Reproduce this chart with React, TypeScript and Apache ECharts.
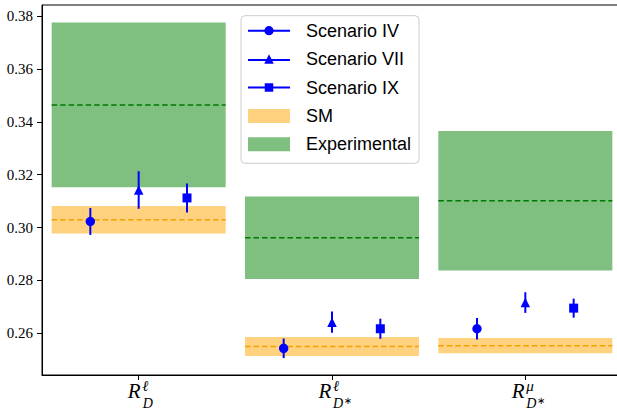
import React, { useEffect, useRef } from 'react';
import * as echarts from 'echarts';

// ---- data ----
const categories = ['R_D^ℓ', 'R_{D*}^ℓ', 'R_{D*}^μ'];
const labelSup = ['ℓ', 'ℓ', 'μ'];
const labelSub = ['D', 'D', 'D'];
const labelStar = [false, true, true];

const smCentral = [0.3029, 0.2550, 0.2553];
const smError = [0.0052, 0.0036, 0.0029];
const expCentral = [0.3464, 0.2961, 0.3101];
const expError = [0.0312, 0.0156, 0.0264];

const scenarioNames = ['Scenario IV', 'Scenario VII', 'Scenario IX'];
const scenarioIV = [0.3023, 0.2543, 0.2617];
const scenarioIVErr = [0.0051, 0.0037, 0.0041];
const scenarioVII = [0.3142, 0.2642, 0.2716];
const scenarioVIIErr = [0.0071, 0.0040, 0.0039];
const scenarioIX = [0.3112, 0.2617, 0.2695];
const scenarioIXErr = [0.0055, 0.0038, 0.0036];

const yTicks = [0.26, 0.28, 0.30, 0.32, 0.34, 0.36, 0.38];
const xTicks = [0, 1, 2];

// ---- layout / style constants ----
const Y_MIN = 0.2442;
const Y_MAX = 0.3842;
const X_MIN = -0.5;
const X_MAX = 2.5;
const BOX_HALF = 0.45;
const OFFSETS = [-0.25, 0, 0.25];
const BLUE = '#0000ff';
const SERIF = 'Liberation Serif';
const SANS = 'Liberation Sans';

const circleIcon =
  'path://M0,3.65 L16.6,3.65 L16.6,5.65 L0,5.65 Z M25.4,3.65 L42,3.65 L42,5.65 L25.4,5.65 Z M16.35,4.65 A4.65,4.65 0 1 1 25.65,4.65 A4.65,4.65 0 1 1 16.35,4.65 Z';
const triangleIcon =
  'path://M0,4.75 L19,4.75 L19,6.75 L0,6.75 Z M23,4.75 L42,4.75 L42,6.75 L23,6.75 Z M21,0 L25.75,9.5 L16.25,9.5 Z';
const squareIcon =
  'path://M0,3.25 L17,3.25 L17,5.25 L0,5.25 Z M25,3.25 L42,3.25 L42,5.25 L25,5.25 Z M16.75,0 L25.25,0 L25.25,8.5 L16.75,8.5 Z';

function boxSeries(name: string, central: number[], err: number[], fill: string, line: string) {
  return {
    type: 'custom',
    name,
    clip: false,
    z: 1,
    itemStyle: { color: fill },
    data: central.map((c, i) => [i, c, err[i]]),
    encode: { x: 0, y: 1 },
    renderItem: (params: any, api: any) => {
      const i = api.value(0);
      const c = api.value(1);
      const e = api.value(2);
      const tl = api.coord([i - BOX_HALF, c + e]);
      const br = api.coord([i + BOX_HALF, c - e]);
      const ml = api.coord([i - BOX_HALF, c]);
      const mr = api.coord([i + BOX_HALF, c]);
      return {
        type: 'group',
        children: [
          {
            type: 'rect',
            shape: { x: tl[0], y: tl[1], width: br[0] - tl[0], height: br[1] - tl[1] },
            style: { fill },
          },
          {
            type: 'line',
            shape: { x1: ml[0], y1: ml[1], x2: mr[0], y2: mr[1] },
            style: { stroke: line, lineWidth: 1.5, lineDash: [5.5, 3] },
          },
        ],
      };
    },
  };
}

function scenarioSeries(name: string, values: number[], err: number[], offset: number, marker: string) {
  return {
    type: 'custom',
    name,
    clip: false,
    z: 5,
    itemStyle: { color: BLUE },
    data: values.map((v, i) => [i, v, err[i]]),
    encode: { x: 0, y: 1 },
    renderItem: (params: any, api: any) => {
      const i = api.value(0) + offset;
      const v = api.value(1);
      const e = api.value(2);
      const p = api.coord([i, v]);
      const hi = api.coord([i, v + e]);
      const lo = api.coord([i, v - e]);
      let m: any;
      if (marker === 'circle') {
        m = { type: 'circle', shape: { cx: p[0], cy: p[1], r: 4.7 }, style: { fill: BLUE } };
      } else if (marker === 'triangle') {
        const s = 4.75;
        m = {
          type: 'polygon',
          shape: { points: [[p[0], p[1] - s], [p[0] + s, p[1] + s], [p[0] - s, p[1] + s]] },
          style: { fill: BLUE },
        };
      } else {
        const s = 4.5;
        m = { type: 'rect', shape: { x: p[0] - s, y: p[1] - s, width: 2 * s, height: 2 * s }, style: { fill: BLUE } };
      }
      return {
        type: 'group',
        children: [
          {
            type: 'line',
            shape: { x1: hi[0], y1: hi[1], x2: lo[0], y2: lo[1] },
            style: { stroke: BLUE, lineWidth: 2 },
          },
          m,
        ],
      };
    },
  };
}

export default function App() {
  const ref = useRef<HTMLDivElement>(null);

  useEffect(() => {
    if (!ref.current) return;
    const chart = echarts.init(ref.current, undefined, { renderer: 'svg' });
    const option: any = {
      animation: false,
      backgroundColor: '#ffffff',
      grid: {
        left: 42,
        top: 5,
        right: 8,
        bottom: 35,
        show: true,
        borderColor: '#000',
        borderWidth: 1,
        backgroundColor: 'transparent',
      },
      xAxis: {
        type: 'value',
        min: X_MIN,
        max: X_MAX,
        axisLine: { show: true, onZero: false, lineStyle: { color: '#000', width: 1 } },
        axisTick: { show: true, customValues: xTicks, length: 5, lineStyle: { color: '#000' } },
        axisLabel: { show: false },
        splitLine: { show: false },
      },
      yAxis: {
        type: 'value',
        min: Y_MIN,
        max: Y_MAX,
        axisLine: { show: true, onZero: false, lineStyle: { color: '#000', width: 1 } },
        axisTick: { show: true, customValues: yTicks, length: 5, lineStyle: { color: '#000' } },
        axisLabel: {
          show: true,
          customValues: yTicks,
          formatter: (v: number) => v.toFixed(2),
          fontFamily: SERIF,
          fontSize: 15,
          color: '#000',
          margin: 9,
        },
        splitLine: { show: false },
      },
      legend: {
        orient: 'vertical',
        left: 241,
        top: 15.7,
        padding: [5, 8, 9, 7],
        itemGap: 8.4,
        itemWidth: 42,
        itemHeight: 14,
        selectedMode: false,
        backgroundColor: 'rgba(255,255,255,0.8)',
        borderColor: '#cccccc',
        borderWidth: 1,
        borderRadius: 4,
        textStyle: {
          fontFamily: SANS,
          fontSize: 18,
          color: '#000',
          lineHeight: 20,
          padding: [0, 0, 0, 11],
        },
        data: [
          { name: scenarioNames[0], icon: circleIcon },
          { name: scenarioNames[1], icon: triangleIcon },
          { name: scenarioNames[2], icon: squareIcon },
          { name: 'SM', icon: 'rect' },
          { name: 'Experimental', icon: 'rect' },
        ],
      },
      series: [
        boxSeries('SM', smCentral, smError, 'rgba(255,165,0,0.5)', '#f5a000'),
        boxSeries('Experimental', expCentral, expError, 'rgba(0,128,0,0.5)', '#007a00'),
        scenarioSeries(scenarioNames[0], scenarioIV, scenarioIVErr, OFFSETS[0], 'circle'),
        scenarioSeries(scenarioNames[1], scenarioVII, scenarioVIIErr, OFFSETS[1], 'triangle'),
        scenarioSeries(scenarioNames[2], scenarioIX, scenarioIXErr, OFFSETS[2], 'square'),
      ],
    };
    chart.setOption(option);

    // math-style category labels placed at the axis ticks
    const graphics: any[] = [];
    categories.forEach((_, i) => {
      const [px, py] = chart.convertToPixel({ xAxisIndex: 0, yAxisIndex: 0 }, [xTicks[i], Y_MIN]) as number[];
      const star = labelStar[i];
      const rLeft = star ? -13.5 : -10.8;
      const scriptLeft = star ? 1.0 : 3.6;
      graphics.push({
        type: 'text',
        x: px + rLeft,
        y: py + 16.3,
        style: { text: 'R', font: `italic 21px "${SERIF}"`, fill: '#000', align: 'left', verticalAlign: 'middle' },
      });
      graphics.push({
        type: 'text',
        x: px + scriptLeft,
        y: py + 11.3,
        style: { text: labelSup[i], font: `italic 15px "${SERIF}"`, fill: '#000', align: 'left', verticalAlign: 'middle' },
      });
      graphics.push({
        type: 'text',
        x: px + (star ? 1.0 : 4.2),
        y: py + 28,
        style: { text: labelSub[i], font: `italic 14px "${SERIF}"`, fill: '#000', align: 'left', verticalAlign: 'middle' },
      });
      if (star) {
        graphics.push({
          type: 'text',
          x: px + 11.5,
          y: py + 25.5,
          style: { text: '∗', font: `10px "DejaVu Sans"`, fill: '#000', align: 'left', verticalAlign: 'middle' },
        });
      }
    });
    chart.setOption({ graphic: graphics });

    return () => chart.dispose();
  }, []);

  return (
    <div style={{ position: 'fixed', left: 0, top: 0, width: 617, height: 410, overflow: 'hidden', background: '#fff' }}>
      <div ref={ref} style={{ width: 630, height: 410 }} />
    </div>
  );
}
